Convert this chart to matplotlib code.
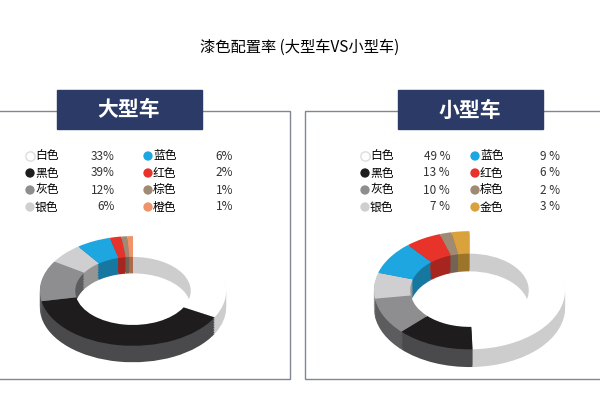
import matplotlib.pyplot as plt
from matplotlib.patches import Rectangle
import matplotlib.colors as mcolors

plt.rcParams["font.family"] = ["Noto Sans CJK SC", "DejaVu Sans"]

names_big = ["白色", "黑色", "灰色", "银色", "蓝色", "红色", "棕色", "橙色"]
vals_big = [33, 39, 12, 6, 6, 2, 1, 1]
cols_big = ["#ffffff", "#1e1c1d", "#8e8e90", "#cfcfd1", "#1ea6e0", "#e8332b", "#a08a74", "#f0936a"]

names_small = ["白色", "黑色", "灰色", "银色", "蓝色", "红色", "棕色", "金色"]
vals_small = [49, 13, 10, 7, 9, 6, 2, 3]
cols_small = ["#ffffff", "#1e1c1d", "#8e8e90", "#cfcfd1", "#1ea6e0", "#e8332b", "#a08a74", "#d9a23c"]

navy = "#2b3a67"
fig = plt.figure(figsize=(6, 4), dpi=100)
bg = fig.add_axes([0, 0, 1, 1])
bg.set_xlim(0, 600); bg.set_ylim(400, 0); bg.axis("off")

bg.text(300, 47, "漆色配置率 (大型车VS小型车)", ha="center", va="center", fontsize=11)

def panel(x0, x1, hx, names, vals, cols, title, pct_fmt):
    bg.add_patch(Rectangle((x0, 111), x1 - x0, 268, fill=False, ec="#7f8795", lw=1))
    bg.add_patch(Rectangle((hx, 90), 145, 39, color=navy))
    bg.text(hx + 72, 110, title, ha="center", va="center", color="white",
            fontsize=15, fontweight="bold")
    for i in range(8):
        col = i // 4
        row = i % 4
        lx = x0 + 35 + col * 118 if x0 < 100 else x0 + 60 + col * 110
        ly = 156 + row * 17
        bg.scatter(lx, ly, s=45, color=cols[i], edgecolors="#dddddd" if cols[i] == "#ffffff" else "none", zorder=3)
        bg.text(lx + 5, ly, names[i], va="center", fontsize=8.5)
        bg.text(lx + 85, ly, pct_fmt % vals[i], va="center", ha="right", fontsize=8.5, color="#333333")

def donut(rect, vals, cols):
    ax = fig.add_axes(rect)
    side = [tuple(c * 0.72 for c in mcolors.to_rgb(cl)) for cl in cols]
    side[0] = "#cdcdcd"
    side[1] = "#4a4a4c"
    side[2] = "#5c5c5e"
    for dy in [x * 0.03 for x in range(10, 0, -1)]:
        ax.pie(vals, colors=side, startangle=90, counterclock=False, center=(0, -dy),
               wedgeprops=dict(width=0.38, lw=0))
    ax.pie(vals, colors=cols, startangle=90, counterclock=False,
           wedgeprops=dict(width=0.38, lw=0))
    ax.set_aspect("auto")
    ax.set_xlim(-1.02, 1.02); ax.set_ylim(-1.35, 1.02)

panel(-5, 290, 57, names_big, vals_big, cols_big, "大型车", "%d%%")
panel(305, 610, 398, names_small, vals_small, cols_small, "小型车", "%d %%")

donut([38 / 600, 1 - 365 / 400, 190 / 600, 130 / 400], vals_big, cols_big)
donut([372 / 600, 1 - 370 / 400, 195 / 600, 140 / 400], vals_small, cols_small)

plt.savefig("out.png", dpi=100)
